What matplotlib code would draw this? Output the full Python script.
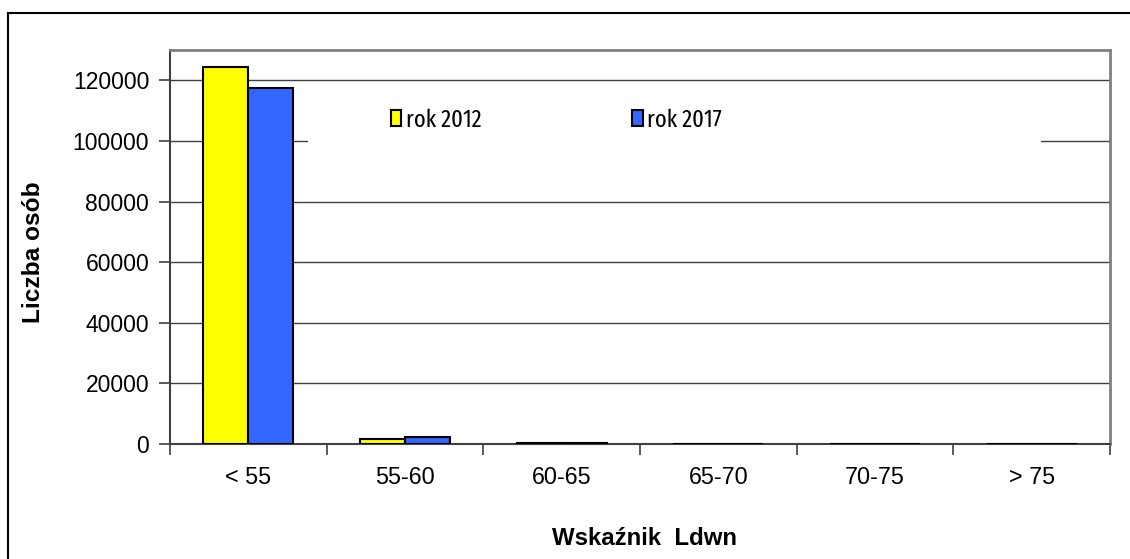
import numpy as np
import matplotlib.pyplot as plt
from matplotlib.lines import Line2D
from matplotlib.patches import Rectangle

plt.rcParams['font.family'] = ['Liberation Sans', 'DejaVu Sans']

categories = ['< 55', '55-60', '60-65', '65-70', '70-75', '> 75']
rok_2012 = [124300, 1650, 350, 30, 5, 1]
rok_2017 = [117400, 2200, 300, 25, 5, 1]
yticks = [0, 20000, 40000, 60000, 80000, 100000, 120000]

fig = plt.figure(figsize=(11.3, 5.59), dpi=100)
ax = fig.add_axes([170 / 1130, 1 - 444 / 559, 940 / 1130, 394 / 559])

# outer chart frame (runs off the right and bottom edges)
fig.add_artist(Line2D([8 / 1130, 8 / 1130], [0, 1 - 13 / 559], color='black', lw=1.5))
fig.add_artist(Line2D([8 / 1130, 1], [1 - 13 / 559, 1 - 13 / 559], color='black', lw=1.5))

x = np.arange(len(categories)) + 0.5
w = 0.288
ax.bar(x - w / 2, rok_2012, w, color='#FFFF00', edgecolor='black', lw=1.5,
       label='rok 2012', zorder=3)
ax.bar(x + w / 2, rok_2017, w, color='#3366FF', edgecolor='black', lw=1.5,
       label='rok 2017', zorder=3)

ax.set_xlim(0, len(categories))
ax.set_ylim(0, 130000)
ax.set_yticks(yticks)
ax.set_yticklabels([str(v) for v in yticks])
ax.yaxis.grid(True, color='#404040', lw=1.0, zorder=0)
ax.set_axisbelow(True)

ax.set_xticks(x)
ax.set_xticklabels(categories)
ax.set_xticks(np.arange(len(categories) + 1), minor=True)
ax.tick_params(axis='x', which='major', length=0, pad=16, labelsize=16.8)
ax.tick_params(axis='x', which='minor', length=8, width=1.2, color='#404040', direction='out')
ax.tick_params(axis='y', length=8, width=1.2, color='#404040', pad=7, labelsize=16.5)

for s in ['left', 'bottom']:
    ax.spines[s].set_color('#404040')
    ax.spines[s].set_linewidth(1.5)
for s in ['top', 'right']:
    ax.spines[s].set_color('#808080')
    ax.spines[s].set_linewidth(2)

ax.set_ylabel('Liczba osób', fontsize=17.6, fontweight='bold', labelpad=0)
ax.yaxis.set_label_coords((45 - 170) / 940, (444 - 252) / 394)
ax.set_xlabel('Wskaźnik  Ldwn', fontsize=17.3, fontweight='bold')
ax.xaxis.set_label_coords((645 - 170) / 940, -(527 - 444) / 394)

# white band behind the legend hides the gridline
ax.add_patch(Rectangle(((308 - 170) / 940, (444 - 152) / 394), (1041 - 308) / 940, 57 / 394,
                       transform=ax.transAxes, facecolor='white', edgecolor='none', zorder=2))
leg = ax.legend(ncol=2, loc='center left', bbox_to_anchor=((391 - 170) / 940, (444 - 120) / 394),
                frameon=False, prop={'family': 'Fira Sans Extra Condensed', 'size': 17.5},
                handlelength=0.42, handleheight=0.65,
                handletextpad=0.2, columnspacing=6.2, borderpad=0, borderaxespad=0)

fig.savefig('out.png', dpi=100)
